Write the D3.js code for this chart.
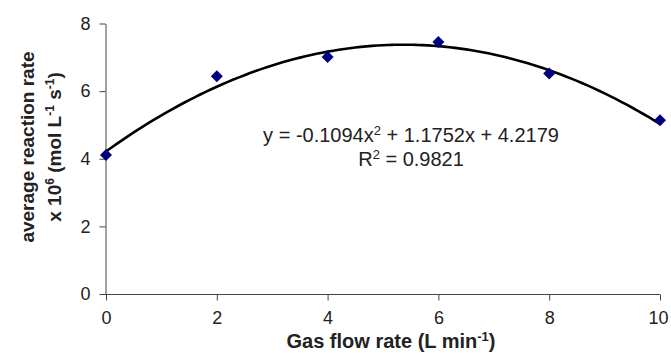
<!DOCTYPE html>
<meta charset="utf-8">
<head>
  <title>Gas flow rate vs reaction rate</title>
</head>
<style>
body { margin: 0; background: #fff; }
svg text { font-family: "Liberation Sans", Arial, sans-serif; fill: #222; }
.axis path, .axis line { stroke: #444; }
.axis text { font-size: 18px; }
.title { font-weight: bold; font-size: 20px; }
.eq { font-size: 20px; }
</style>
<body>
<svg width="671" height="353"></svg>
<script src="https://cdnjs.cloudflare.com/ajax/libs/d3/7.8.5/d3.min.js"></script>
<script>
// measured points
var flow = [0, 2, 4, 6, 8, 10];
var rate = [4.11, 6.44, 7.01, 7.45, 6.52, 5.14];
var xTicks = [0, 2, 4, 6, 8, 10];
var yTicks = [0, 2, 4, 6, 8];
// trendline coefficients as printed on the chart
var coef = [-0.1094, 1.1752, 4.2179];
var r2 = "0.9821";

var svg = d3.select("svg");
var plotL = 106, plotT = 23.5, plotR = 660, plotB = 294;

var x = d3.scaleLinear().domain([0, 10]).range([plotL, plotR]);
var y = d3.scaleLinear().domain([0, 8]).range([plotB, plotT]);

var xAxis = svg.append("g").attr("class", "axis")
  .attr("transform", "translate(0," + (plotB + 0.5) + ")")
  .call(d3.axisBottom(x).tickValues(xTicks).tickSize(6).tickSizeOuter(0).tickPadding(11));
xAxis.select(".domain").attr("d", "M" + (plotL - 6) + ",0H" + plotR);
// keep the last label inside the window
xAxis.selectAll(".tick text").filter(function(d) { return d === 10; }).attr("dx", -2);

svg.append("g").attr("class", "axis")
  .attr("transform", "translate(" + (plotL - 0.5) + ",0)")
  .call(d3.axisLeft(y).tickValues(yTicks).tickSize(6).tickSizeOuter(0).tickPadding(9));

// trendline
var xs = d3.range(0, 10.001, 0.1);
var line = d3.line()
  .x(function(d) { return x(d); })
  .y(function(d) { return y(coef[0] * d * d + coef[1] * d + coef[2]); })
  .curve(d3.curveBasis);
svg.append("path").datum(xs)
  .attr("d", line)
  .attr("fill", "none")
  .attr("stroke", "#000")
  .attr("stroke-width", 2.6);

// markers
var pts = flow.map(function(f, i) { return [f, rate[i]]; });
svg.selectAll(".pt").data(pts).enter().append("path")
  .attr("class", "pt")
  .attr("d", d3.symbol().type(d3.symbolSquare).size(72))
  .attr("transform", function(d) { return "translate(" + x(d[0]) + "," + y(d[1]) + ") rotate(45)"; })
  .attr("fill", "#000080");

// equation
var eq = svg.append("text").attr("class", "eq")
  .attr("x", 411).attr("y", 142).attr("text-anchor", "middle");
eq.append("tspan").text("y = " + coef[0] + "x");
eq.append("tspan").attr("dy", -7).attr("font-size", 13).text("2");
eq.append("tspan").attr("dy", 7).text(" + " + coef[1] + "x + " + coef[2]);

var rt = svg.append("text").attr("class", "eq")
  .attr("x", 411).attr("y", 166).attr("text-anchor", "middle");
rt.append("tspan").text("R");
rt.append("tspan").attr("dy", -7).attr("font-size", 13).text("2");
rt.append("tspan").attr("dy", 7).text(" = " + r2);

// x title
var xt = svg.append("text").attr("class", "title")
  .attr("x", 391).attr("y", 348).attr("text-anchor", "middle");
xt.append("tspan").text("Gas flow rate (L min");
xt.append("tspan").attr("dy", -7).attr("font-size", 13).text("-1");
xt.append("tspan").attr("dy", 7).text(")");

// y title, two lines
var yt = svg.append("g").attr("transform", "translate(0,147) rotate(-90)");
yt.append("text").attr("class", "title").style("font-size", "19px")
  .attr("x", 0).attr("y", 34).attr("text-anchor", "middle")
  .text("average reaction rate");
var l2 = yt.append("text").attr("class", "title").style("font-size", "19px")
  .attr("x", 0).attr("y", 61).attr("text-anchor", "middle");
l2.append("tspan").text("x 10");
l2.append("tspan").attr("dy", -7).attr("font-size", 12).text("6");
l2.append("tspan").attr("dy", 7).text(" (mol L");
l2.append("tspan").attr("dy", -7).attr("font-size", 12).text("-1");
l2.append("tspan").attr("dy", 7).text(" s");
l2.append("tspan").attr("dy", -7).attr("font-size", 12).text("-1");
l2.append("tspan").attr("dy", 7).text(")");
</script>
</body>
</html>
